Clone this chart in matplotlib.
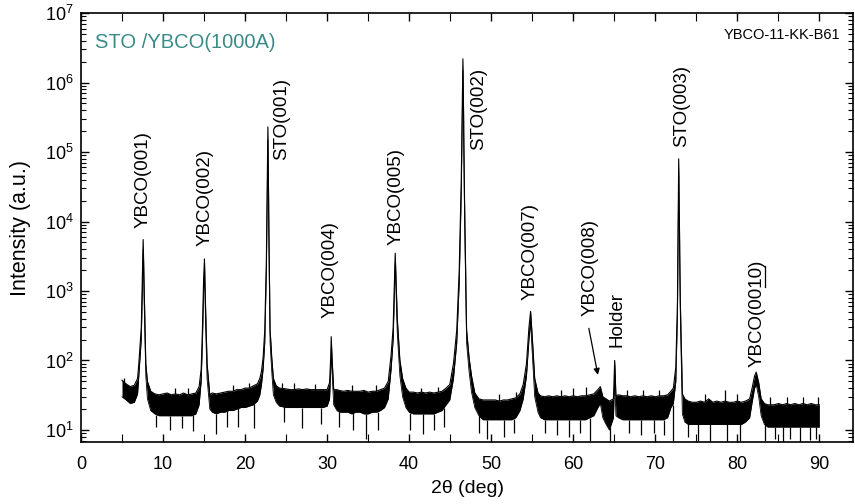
import matplotlib
matplotlib.use("Agg")
import matplotlib.pyplot as plt
from matplotlib.lines import Line2D
import numpy as np

plt.rcParams['font.family'] = ['Liberation Sans', 'DejaVu Sans']
plt.rcParams['mathtext.fontset'] = 'custom'
plt.rcParams['mathtext.rm'] = 'Liberation Sans'
plt.rcParams['mathtext.it'] = 'Liberation Sans:italic'
plt.rcParams['mathtext.bf'] = 'Liberation Sans:bold'

# ---- data: upper / lower envelope of the noisy trace ----
two_theta = [5.0, 5.5, 6.0, 6.5, 6.9, 7.05, 7.35, 7.5, 7.58, 7.68, 7.9, 8.1, 8.5,
             9.0, 9.5, 10.0, 10.5, 11.0, 11.5, 12.0, 12.5, 13.0, 13.5, 14.0, 14.4,
             14.65, 14.8, 14.95, 15.05, 15.2, 15.37, 15.7, 16.0, 16.5, 17.0, 17.5,
             18.0, 18.5, 19.0, 19.5, 20.0, 20.5, 21.0, 21.5, 21.8, 22.0, 22.2, 22.4,
             22.6, 22.78, 22.95, 23.05, 23.25, 23.45, 23.8, 24.2, 25.0, 25.5, 26.0,
             26.5, 27.0, 27.5, 28.0, 28.5, 29.0, 29.5, 30.0, 30.3, 30.45, 30.5, 30.6,
             30.8, 31.2, 31.5, 32.0, 32.5, 33.0, 33.5, 34.0, 34.5, 35.0, 35.5, 36.0,
             36.5, 37.0, 37.45, 37.8, 38.05, 38.3, 38.55, 38.87, 39.2, 39.6, 40.0,
             40.5, 41.0, 41.5, 42.0, 42.5, 43.0, 43.5, 44.0, 44.5, 44.95, 45.4, 45.8,
             46.1, 46.35, 46.48, 46.55, 46.62, 46.75, 47.0, 47.3, 47.6, 48.0, 48.5,
             49.0, 49.5, 50.0, 50.5, 51.0, 51.5, 52.0, 52.5, 53.0, 53.5, 53.9, 54.3,
             54.6, 54.8, 55.0, 55.3, 55.7, 56.0, 56.5, 57.0, 57.5, 58.0, 58.5, 59.0,
             59.5, 60.0, 60.5, 61.0, 61.5, 62.0, 62.5, 63.0, 63.3, 63.6, 64.0, 64.4,
             64.9, 65.05, 65.2, 65.5, 66.0, 66.5, 67.0, 67.5, 68.0, 68.5, 69.0, 69.5,
             70.0, 70.5, 71.0, 71.5, 71.9, 72.2, 72.5, 72.7, 72.85, 73.05, 73.3, 73.6,
             74.0, 74.5, 75.0, 75.5, 76.0, 76.5, 77.0, 77.5, 78.0, 78.5, 79.0, 79.5,
             80.0, 80.5, 81.0, 81.5, 81.8, 82.1, 82.3, 82.6, 82.9, 83.3, 83.7, 84.0,
             84.5, 85.0, 85.5, 86.0, 86.5, 87.0, 87.5, 88.0, 88.5, 89.0, 89.5, 90.0]
intensity_upper = [52, 46, 42, 44, 55, 90, 300, 2000, 5500, 1500, 90, 50, 36,
                   33, 32, 33, 34, 32, 33, 32, 34, 32, 33, 34, 42,
                   75, 275, 1500, 2900, 500, 90, 32, 34, 33, 34, 35,
                   36, 36, 38, 38, 40, 40, 43, 46, 55, 70, 110, 270,
                   3000, 230000, 2500, 280, 110, 55, 43, 40, 39, 38, 38,
                   39, 38, 39, 38, 38, 38, 38, 38, 48, 120, 220, 110,
                   38, 38, 37, 36, 37, 36, 36, 36, 37, 35, 36, 36,
                   38, 40, 50, 120, 300, 3500, 400, 100, 55, 40, 35,
                   35, 34, 35, 34, 35, 34, 35, 36, 40, 45, 90, 275,
                   2000, 40000, 600000, 2200000, 500000, 20000, 275, 110, 60, 34, 28,
                   27, 27, 27, 27, 26, 27, 27, 28, 29, 33, 45, 90,
                   300, 510, 220, 55, 34, 31, 30, 31, 30, 31, 30, 31,
                   30, 31, 30, 31, 31, 32, 33, 38, 42, 30, 28, 26,
                   28, 100, 31, 32, 31, 31, 30, 31, 30, 31, 30, 31,
                   30, 31, 31, 32, 36, 40, 80, 700, 80000, 700, 33, 28,
                   26, 25, 25, 26, 25, 28, 25, 26, 25, 26, 25, 25,
                   26, 25, 26, 28, 40, 60, 68, 48, 28, 24, 23, 23,
                   23, 24, 23, 24, 23, 24, 23, 24, 23, 24, 23, 23]
intensity_lower = [30, 27, 24, 25, 33, 60, 200, 1200, 4000, 900, 60, 28, 19,
                   17, 16, 16, 16, 16, 16, 16, 16, 16, 16, 17, 23,
                   50, 180, 1000, 2000, 300, 55, 20, 18, 17, 18, 18,
                   19, 19, 20, 21, 21, 22, 23, 26, 32, 45, 75, 180,
                   2000, 150000, 1600, 180, 70, 32, 25, 22, 21, 21, 21,
                   21, 21, 21, 21, 21, 21, 21, 22, 28, 80, 150, 70,
                   23, 19, 18, 18, 18, 17, 18, 18, 17, 17, 18, 18,
                   19, 21, 28, 75, 200, 2500, 250, 60, 30, 21, 18,
                   17, 17, 17, 17, 17, 17, 18, 19, 23, 27, 55, 180,
                   1300, 25000, 400000, 1500000, 300000, 12000, 180, 70, 35, 21, 16,
                   14, 14, 14, 14, 14, 14, 14, 14, 15, 19, 28, 60,
                   200, 350, 130, 30, 18, 15, 14, 14, 14, 14, 14, 14,
                   14, 14, 14, 14, 14, 15, 16, 21, 24, 15, 12, 10,
                   15, 60, 16, 15, 14, 14, 14, 14, 14, 14, 14, 14,
                   14, 14, 14, 15, 21, 24, 50, 450, 50000, 450, 17, 13,
                   12, 12, 12, 12, 12, 12, 12, 12, 12, 12, 12, 12,
                   12, 12, 13, 15, 25, 40, 45, 30, 16, 12, 11, 11,
                   11, 11, 11, 11, 11, 11, 11, 11, 11, 11, 11, 11]

# isolated downward noise spikes (position, minimum intensity)
dip_theta = [9.2, 10.8, 12.3, 13.6, 16.5, 17.8, 19.2, 21.1, 24.8, 27.0, 29.2,
             31.5, 33.2, 34.8, 36.2, 40.1, 41.7, 43.0, 44.2, 48.5, 49.5, 51.6,
             52.8, 56.5, 58.0, 59.5, 60.8, 62.0, 64.5, 66.8, 68.3, 69.8, 71.0,
             72.1, 74.0, 75.2, 76.7, 78.7, 80.3, 83.4, 84.6, 85.6, 86.4, 87.6,
             88.8, 89.6]
dip_intensity = [11, 10, 10.5, 9.5, 8.6, 11, 11, 10.5, 13, 10.5, 12,
                 11, 10, 7.5, 10, 10, 8.6, 10, 11, 9, 7.5, 8,
                 9, 9, 8.5, 8, 9, 7, 6.5, 9, 8.5, 9, 8.5,
                 7, 8, 7, 6.8, 6.8, 7, 7, 7.5, 6.8, 7.5, 6.8,
                 7.2, 7.5]
# isolated upward noise spikes (position, maximum intensity)
spike_theta = [5.2, 11.5, 13.0, 18.5, 20.5, 24.5, 26.0, 28.5, 33.0, 36.0,
               41.5, 43.5, 51.0, 53.0, 58.5, 60.0, 61.5, 66.5, 68.5, 70.5,
               76.0, 78.5, 80.0, 84.0, 86.0, 88.0, 89.8]
spike_intensity = [55, 40, 40, 44, 48, 48, 47, 46, 44, 45,
                   40, 42, 33, 35, 37, 40, 42, 38, 38, 38,
                   33, 38, 33, 30, 30, 30, 30]

# peak labels: (text, 2theta, intensity of text base)
label_text = ['YBCO(001)', 'YBCO(002)', 'STO(001)', 'YBCO(004)', 'YBCO(005)',
              'STO(002)', 'YBCO(007)', 'YBCO(008)', 'Holder', 'STO(003)', 'YBCO(0010)']
label_theta = [7.6, 15.1, 24.4, 30.4, 38.4, 48.5, 54.7, 62.0, 65.3, 73.2, 82.4]
label_base = [8000, 4500, 7.7e4, 410, 4600, 1.07e5, 740, 440, 156, 1.2e5, 81]

x_ticks = [0, 10, 20, 30, 40, 50, 60, 70, 80, 90]
y_ticks = [1e1, 1e2, 1e3, 1e4, 1e5, 1e6, 1e7]
y_tick_labels = ['$10^{1}$', '$10^{2}$', '$10^{3}$', '$10^{4}$', '$10^{5}$', '$10^{6}$', '$10^{7}$']

fig = plt.figure(figsize=(8.55, 5.04), dpi=100)
ax = fig.add_axes([0.0947, 0.123, 0.9030, 0.851])

ax.fill_between(two_theta, intensity_lower, intensity_upper, color='black', lw=0)
ax.plot(two_theta, intensity_upper, color='black', lw=0.8)
ax.plot(two_theta, intensity_lower, color='black', lw=0.6)
lo_at_dip = np.interp(dip_theta, two_theta, intensity_lower)
ax.vlines(dip_theta, dip_intensity, lo_at_dip, color='black', lw=0.9)
hi_at_spike = np.interp(spike_theta, two_theta, intensity_upper)
ax.vlines(spike_theta, hi_at_spike, spike_intensity, color='black', lw=0.9)

ax.set_yscale('log')
ax.set_xlim(0, 94.1)
ax.set_ylim(6.7, 1e7)
ax.set_xticks(x_ticks)
ax.set_xticks([5 + 10 * i for i in range(9)], minor=True)
ax.set_yticks(y_ticks)
ax.set_yticklabels(y_tick_labels)
minor_y = [m * 10 ** d for d in range(0, 7) for m in range(2, 10) if 6.7 <= m * 10 ** d <= 1e7]
ax.set_yticks(minor_y, minor=True)
ax.yaxis.set_minor_formatter(matplotlib.ticker.NullFormatter())
ax.tick_params(axis='both', which='both', direction='in', top=True, right=True)
ax.tick_params(axis='both', which='major', length=6, width=1.0, labelsize=13)
ax.tick_params(axis='x', which='major', pad=10)
ax.tick_params(axis='y', which='major', pad=5)
ax.tick_params(axis='both', which='minor', length=3.5, width=0.8)
ax.tick_params(axis='x', which='minor', length=6)
for s in ax.spines.values():
    s.set_linewidth(1.2)

ax.set_xlabel('2θ (deg)', fontsize=14, labelpad=5)
ax.set_ylabel('Intensity (a.u.)', fontsize=15.5, labelpad=10)

ax.text(0.018, 0.932, 'STO /YBCO(1000A)', transform=ax.transAxes, color='#3a8a87',
        fontsize=14.5, ha='left', va='center')
ax.text(0.983, 0.950, 'YBCO-11-KK-B61', transform=ax.transAxes, color='black',
        fontsize=10.5, ha='right', va='center')

LABEL_FS = 13.5
texts = []
for t, x, yb in zip(label_text, label_theta, label_base):
    tt = ax.text(x, yb, t, rotation=90, ha='center', va='bottom', fontsize=LABEL_FS)
    texts.append(tt)

# arrow for YBCO(008)
ax.annotate('', xy=(63.0, 62), xytext=(61.9, 290),
            arrowprops=dict(arrowstyle='-|>', color='black', lw=0.9,
                            mutation_scale=9, shrinkA=0, shrinkB=0))

# underline the "10" of YBCO(0010)
fig.canvas.draw()
renderer = fig.canvas.get_renderer()
full = texts[-1]
bb_full = full.get_window_extent(renderer)
tmp1 = ax.text(label_theta[-1], label_base[-1], 'YBCO(00', rotation=90, ha='center',
               va='bottom', fontsize=LABEL_FS)
tmp2 = ax.text(label_theta[-1], label_base[-1], 'YBCO(0010', rotation=90, ha='center',
               va='bottom', fontsize=LABEL_FS)
h1 = tmp1.get_window_extent(renderer).height
h2 = tmp2.get_window_extent(renderer).height
tmp1.remove()
tmp2.remove()
xu = bb_full.x1 - 1.0
y0 = bb_full.y0 + h1
y1 = bb_full.y0 + h2 - 0.5
inv = fig.transFigure.inverted()
p0 = inv.transform((xu, y0))
p1 = inv.transform((xu, y1))
fig.add_artist(Line2D([p0[0], p1[0]], [p0[1], p1[1]], color='black', lw=0.9))

fig.savefig('out.png', dpi=100)
